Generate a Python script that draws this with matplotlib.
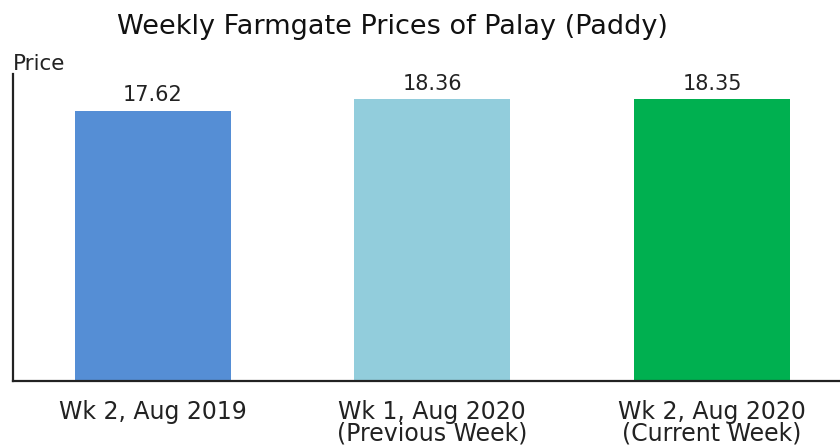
import matplotlib
matplotlib.use("Agg")
import matplotlib.pyplot as plt

categories = ["Wk 2, Aug 2019", "Wk 1, Aug 2020\n(Previous Week)", "Wk 2, Aug 2020\n(Current Week)"]
values = [17.62, 18.36, 18.35]
colors = ["#558ED5", "#92CDDC", "#00B050"]
title = "Weekly Farmgate Prices of Palay (Paddy)"

fig = plt.figure(figsize=(8.4, 4.46), dpi=100)
ax = fig.add_axes([13/840, 65/446, 1 - 13/840, 307/446])
x = list(range(len(values)))
bars = ax.bar(x, values, width=0.558, color=colors, zorder=2)
ax.set_xlim(-0.5, 2.458)
ax.set_ylim(0, 20)
for xi, v in zip(x, values):
    ax.annotate(f"{v:.2f}", (xi, v), xytext=(0, 4), textcoords="offset points",
                ha="center", va="bottom", fontsize=15, family="DejaVu Sans", color="#222222")
ax.set_xticks(x)
ax.set_xticklabels(categories, fontsize=17, family="DejaVu Sans", color="#222222", linespacing=0.85)
ax.tick_params(axis="x", length=0, pad=14)
ax.set_yticks([])
for s in ["top", "right"]:
    ax.spines[s].set_visible(False)
for s in ["left", "bottom"]:
    ax.spines[s].set_linewidth(1.6)
    ax.spines[s].set_color("#222222")
fig.text(13/840, (446-70)/446, "Price", fontsize=15.5, family="DejaVu Sans", ha="left", va="baseline", color="#222222")
fig.text(392/840, (446-34)/446, title, fontsize=19.5, family="DejaVu Sans", ha="center", va="baseline", color="#111111")
fig.savefig("out.png", dpi=100)
